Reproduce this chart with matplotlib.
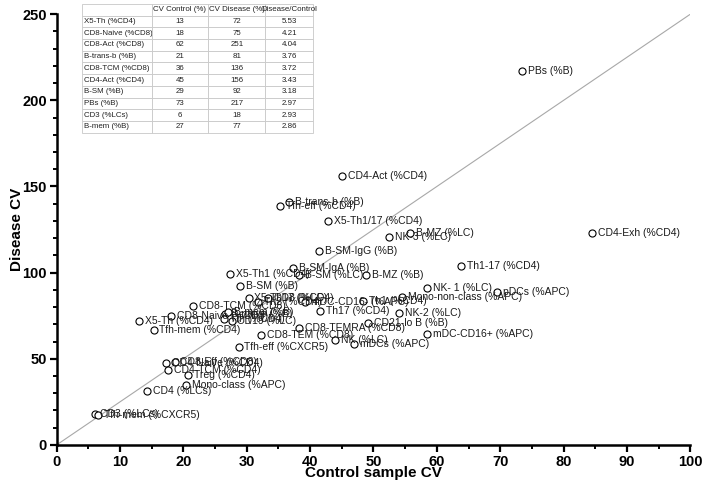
import matplotlib
matplotlib.use('Agg')
import matplotlib.pyplot as plt
from matplotlib.ticker import MultipleLocator

plt.rcParams['font.family'] = ['Liberation Sans', 'DejaVu Sans']

# ---------------------------------------------------------------------------
# scatter data (control CV, disease CV)
labels = [
    'PBs (%B)', 'CD4-Act (%CD4)', 'B-trans-b (%B)', 'Tfh-eff (%CD4)',
    'X5-Th1/17 (%CD4)', 'CD4-Exh (%CD4)', 'B-MZ (%LC)', 'NK-3 (%LC)',
    'B-SM-IgG (%B)', 'Th1-17 (%CD4)', 'B-SM-IgA (%B)', 'X5-Th1 (%CD4)',
    'B-SM (%LC)', 'B-MZ (%B)', 'B-SM (%B)', 'NK- 1 (%LC)', 'pDCs (%APC)',
    'X5-Th17 (%CD4)', 'CD8 (%LC)', 'Mono-non-class (%APC)', 'Th1 (%CD4)',
    'Th2 (%CD4)', 'mDC-CD16- (%APC)', 'CD8-TCM (%CD8)', 'Th17 (%CD4)',
    'NK-2 (%LC)', 'CD8-Naive (%CD8)', 'B-naive (%B)', 'B-mem (%B)',
    'Tfh (%CD4)', 'CD19 (%LC)', 'X5-Th (%CD4)', 'CD21-lo B (%B)',
    'Tfh-mem (%CD4)', 'CD8-TEMRA (%CD8)', 'mDC-CD16+ (%APC)',
    'CD8-TEM (%CD8)', 'NK (%LC)', 'mDCs (%APC)', 'Tfh-eff (%CXCR5)',
    'CD4-Naive (%CD4)', 'CD8-Eff (%CD8)', 'CD4-TCM (%CD4)', 'Treg (%CD4)',
    'Mono-class (%APC)', 'CD4 (%LCs)', 'CD3 (%LCs)', 'Tfh-mem (%CXCR5)',
]
control_cv = [
    73.5, 45, 36.7, 35.3,
    42.9, 84.5, 55.8, 52.4,
    41.4, 63.8, 37.3, 27.4,
    38.2, 48.8, 29, 58.4, 69.5,
    30.3, 33.4, 54.5, 48.4,
    31.8, 39.2, 21.5, 41.6,
    54.0, 18, 26.6, 27,
    26.4, 27.6, 13, 49.1,
    15.3, 38.2, 58.4,
    32.2, 44.0, 46.9, 28.7,
    17.3, 18.6, 17.6, 20.8,
    20.4, 14.3, 6, 6.6,
]
disease_cv = [
    217, 156, 140.8, 138.4,
    130.2, 122.8, 123.2, 120.5,
    112.5, 103.8, 102.9, 99.4,
    98.8, 98.4, 92, 90.9, 89.0,
    85.5, 85.5, 85.7, 83.7,
    83.1, 83.1, 80.8, 77.9,
    76.3, 75, 76, 77,
    73, 72, 72, 71.0,
    66.7, 68.1, 64.2,
    63.8, 61.0, 58.7, 56.9,
    47.6, 48, 43.7, 40.3,
    34.9, 31.5, 18, 17.5,
]
ref_slope = 2.5

# inset table: top ten disease/control ratios
table_header = ['', 'CV Control (%)', 'CV Disease (%)', 'Disease/Control']
table_rows = ['X5-Th (%CD4)', 'CD8-Naive (%CD8)', 'CD8-Act (%CD8)',
              'B-trans-b (%B)', 'CD8-TCM (%CD8)', 'CD4-Act (%CD4)',
              'B-SM (%B)', 'PBs (%B)', 'CD3 (%LCs)', 'B-mem (%B)']
table_control = [13, 18, 62, 21, 36, 45, 29, 73, 6, 27]
table_disease = [72, 75, 251, 81, 136, 156, 92, 217, 18, 77]
table_ratio = [5.53, 4.21, 4.04, 3.76, 3.72, 3.43, 3.18, 2.97, 2.93, 2.86]


# ---------------------------------------------------------------------------
fig = plt.figure(figsize=(7.08, 4.90), dpi=100)
ax = fig.add_axes([0.080, 0.092, 0.895, 0.879])

ax.axline((0, 0), slope=ref_slope, color='#a8a8a8', lw=0.8, zorder=1)
ax.scatter(control_cv, disease_cv, s=26, facecolors='white',
           edgecolors='black', linewidths=0.8, zorder=3)
for lab, x, y in zip(labels, control_cv, disease_cv):
    ax.annotate(lab, (x, y), xytext=(4.2, 0), textcoords='offset points',
                va='center', ha='left', fontsize=7.5, color='#1a1a1a',
                zorder=4)

ax.set_xlim(0, 100); ax.set_ylim(0, 250)
ax.xaxis.set_major_locator(MultipleLocator(10))
ax.xaxis.set_minor_locator(MultipleLocator(5))
ax.yaxis.set_major_locator(MultipleLocator(50))
ax.yaxis.set_minor_locator(MultipleLocator(10))
for s in ('top', 'right'):
    ax.spines[s].set_visible(False)
for s in ('left', 'bottom'):
    ax.spines[s].set_linewidth(1.8)
ax.tick_params(which='major', length=5, width=1.6, labelsize=10.5, pad=2)
ax.tick_params(which='minor', length=3, width=1.4)
for t in ax.get_xticklabels() + ax.get_yticklabels():
    t.set_fontweight('bold')
ax.set_xlabel('Control sample CV', fontsize=11, fontweight='bold')
ax.set_ylabel('Disease CV', fontsize=11, fontweight='bold')
ax.xaxis.set_label_coords(0.5, -0.05)
ax.yaxis.set_label_coords(-0.052, 0.5)

# --- inset table ---
tax = fig.add_axes([0.1154, 0.729, 0.327, 0.263])
tax.axis('off')
cells = [[r, f'{c}', f'{d}', f'{q:.2f}'] for r, c, d, q in
         zip(table_rows, table_control, table_disease, table_ratio)]
tbl = tax.table(cellText=cells, colLabels=table_header, bbox=[0, 0, 1, 1],
                colWidths=[70, 57, 57, 48], cellLoc='center')
tbl.auto_set_font_size(False)
for (r, c), cell in tbl.get_celld().items():
    cell.set_edgecolor('#c8c8c8')
    cell.set_linewidth(0.6)
    cell.get_text().set_fontsize(5.7)
    cell.get_text().set_color('#222222')
    if c == 0 and r > 0:
        cell.get_text().set_ha('left')
        cell.PAD = 0.04

fig.savefig('out.png', dpi=100)
